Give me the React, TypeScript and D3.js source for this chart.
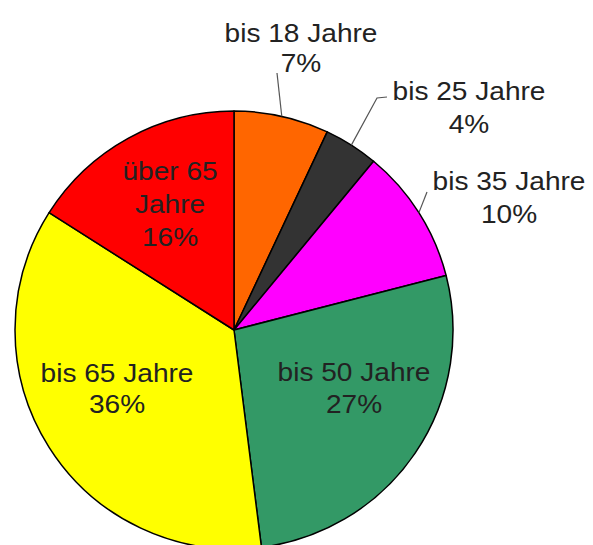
import React from "react";
import * as d3 from "d3";

const categories = ["bis 18 Jahre", "bis 25 Jahre", "bis 35 Jahre", "bis 50 Jahre", "bis 65 Jahre", "über 65 Jahre"];
const values = [7, 4, 10, 27, 36, 16];
const colors = ["#FF6600", "#333333", "#FF00FF", "#339966", "#FFFF00", "#FF0000"];
const labelLines = [
  ["bis 18 Jahre", "7%"],
  ["bis 25 Jahre", "4%"],
  ["bis 35 Jahre", "10%"],
  ["bis 50 Jahre", "27%"],
  ["bis 65 Jahre", "36%"],
  ["über 65", "Jahre", "16%"],
];

const W = 593;
const H = 545;
const cx = 234;
const cy = 330;
const R = 219;

// label layout: [centerX, firstBaseline, lineGap, leader]
const layout: { x: number; y: number; gap: number; leader?: [number, number][] }[] = [
  { x: 301, y: 42, gap: 30, leader: [[277, 73]] },
  { x: 469, y: 100, gap: 33, leader: [[377, 98], [387, 97]] },
  { x: 509, y: 190, gap: 33, leader: [[427, 192]] },
  { x: 354, y: 381, gap: 32 },
  { x: 117, y: 382, gap: 31 },
  { x: 170, y: 180, gap: 33 },
];

export default function App() {
  const pie = d3.pie<number>().sort(null).value((d) => d)(values);
  const arc = d3.arc<d3.PieArcDatum<number>>().innerRadius(0).outerRadius(R);
  const edge = d3.arc<d3.PieArcDatum<number>>().innerRadius(R).outerRadius(R);

  return (
    <svg
      width={W}
      height={H}
      style={{ position: "absolute", left: 0, top: 0, background: "#fff" }}
      fontFamily="'Liberation Sans', Arial, sans-serif"
    >
      <g transform={`translate(${cx},${cy})`}>
        {pie.map((p, i) => (
          <path key={categories[i]} d={arc(p) || ""} fill={colors[i]} stroke="#000" strokeWidth={1.5} strokeLinejoin="round" />
        ))}
        {pie.map((p, i) => {
          const L = layout[i];
          if (!L.leader) return null;
          const [ex, ey] = edge.centroid(p);
          const pts: [number, number][] = [[ex, ey], ...L.leader.map(([x, y]) => [x - cx, y - cy] as [number, number])];
          return (
            <path key={"l" + i} d={d3.line()(pts) || ""} fill="none" stroke="#555" strokeWidth={1.2} />
          );
        })}
      </g>
      {labelLines.map((lines, i) => {
        const L = layout[i];
        return (
          <text key={"t" + i} textAnchor="middle" fontSize={26} fill="#222" transform={`translate(${L.x},0) scale(1.08,1)`}>
            {lines.map((s, j) => (
              <tspan key={j} x={0} y={L.y + j * L.gap}>
                {s}
              </tspan>
            ))}
          </text>
        );
      })}
    </svg>
  );
}
